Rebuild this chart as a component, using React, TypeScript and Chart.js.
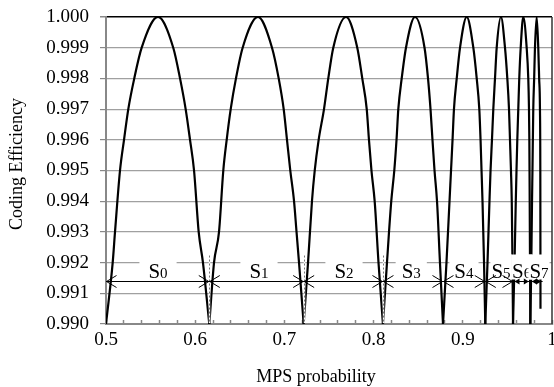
import React, { useEffect, useRef } from 'react';
import { Chart, registerables } from 'chart.js';

Chart.register(...registerables);

const FONT = '"Liberation Serif", "Times New Roman", serif';

const X_TITLE = 'MPS probability';
const Y_TITLE = 'Coding Efficiency';

const LABELS = ['S0', 'S1', 'S2', 'S3', 'S4', 'S5', 'S6', 'S7'];

const S0_X = [0.5000, 0.5075, 0.5101, 0.5157, 0.5202, 0.5250, 0.5317, 0.5400, 0.5583, 0.5754, 0.5830, 0.5893, 0.5942, 0.5987, 0.6039, 0.6087, 0.6158];
const S0_Y = [0.990, 0.992, 0.993, 0.995, 0.996, 0.997, 0.998, 0.999, 1.000, 0.999, 0.998, 0.997, 0.996, 0.995, 0.993, 0.992, 0.990];

const S1_X = [0.6158, 0.6211, 0.6267, 0.6315, 0.6353, 0.6398, 0.6457, 0.6532, 0.6704, 0.6861, 0.6936, 0.6992, 0.7029, 0.7066, 0.7108, 0.7136, 0.7164, 0.7216];
const S1_Y = [0.990, 0.992, 0.993, 0.995, 0.996, 0.997, 0.998, 0.999, 1.000, 0.999, 0.998, 0.997, 0.996, 0.995, 0.994, 0.993, 0.992, 0.990];

const S2_X = [0.7216, 0.7265, 0.7309, 0.7340, 0.7384, 0.7444, 0.7492, 0.7548, 0.7691, 0.7817, 0.7873, 0.7923, 0.7948, 0.7976, 0.8012, 0.8055, 0.8105];
const S2_Y = [0.990, 0.992, 0.994, 0.995, 0.996, 0.997, 0.998, 0.999, 1.000, 0.999, 0.998, 0.997, 0.996, 0.995, 0.994, 0.992, 0.990];

const S3_X = [0.8105, 0.8150, 0.8198, 0.8232, 0.8257, 0.8277, 0.8315, 0.8363, 0.8464, 0.8571, 0.8610, 0.8638, 0.8660, 0.8683, 0.8711, 0.8744, 0.8778];
const S3_Y = [0.990, 0.992, 0.994, 0.995, 0.996, 0.997, 0.998, 0.999, 1.000, 0.999, 0.998, 0.997, 0.996, 0.995, 0.994, 0.992, 0.990];

const S4_X = [0.8778, 0.8817, 0.8851, 0.8868, 0.8885, 0.8901, 0.8932, 0.8969, 0.9044, 0.9118, 0.9156, 0.9185, 0.9199, 0.9210, 0.9221, 0.9238, 0.9252];
const S4_Y = [0.990, 0.992, 0.994, 0.995, 0.996, 0.997, 0.998, 0.999, 1.000, 0.999, 0.998, 0.997, 0.996, 0.995, 0.994, 0.992, 0.990];

const S5_X = [0.9252, 0.9277, 0.9299, 0.9311, 0.9327, 0.9342, 0.9361, 0.9380, 0.9428, 0.9473, 0.9499, 0.9518, 0.9529, 0.9540, 0.9549, 0.9557, 0.9563];
const S5_Y = [0.990, 0.992, 0.994, 0.995, 0.996, 0.997, 0.998, 0.999, 1.000, 0.999, 0.998, 0.997, 0.996, 0.995, 0.994, 0.992, 0.990];

const S6_X = [0.9563, 0.9580, 0.9594, 0.9602, 0.9611, 0.9622, 0.9633, 0.9649, 0.9678, 0.9716, 0.9734, 0.9742, 0.9746, 0.9750, 0.9757];
const S6_Y = [0.990, 0.992, 0.994, 0.995, 0.996, 0.997, 0.998, 0.999, 1.000, 0.999, 0.998, 0.997, 0.996, 0.994, 0.990];

const S7_X = [0.9757, 0.9768, 0.9776, 0.9781, 0.9790, 0.9800, 0.9809, 0.9828, 0.9846, 0.9856, 0.9865, 0.9869, 0.9871];
const S7_Y = [0.990, 0.992, 0.994, 0.995, 0.997, 0.998, 0.999, 1.000, 0.999, 0.998, 0.997, 0.995, 0.9905];

const ARCH_X = [S0_X, S1_X, S2_X, S3_X, S4_X, S5_X, S6_X, S7_X];
const ARCH_Y = [S0_Y, S1_Y, S2_Y, S3_Y, S4_Y, S5_Y, S6_Y, S7_Y];

// state interval boundaries (arrow ends) and label centres
const BOUNDARIES = [0.5, 0.6158, 0.7216, 0.8105, 0.8778, 0.9252, 0.9563, 0.9757, 0.9895];
const LABEL_X = [0.5583, 0.6715, 0.7668, 0.8422, 0.9013, 0.9428, 0.966, 0.9854];
const ARROW_Y = 0.9914;
const DASHED_BOUNDARY_INDEX = [1, 2, 3];
const DASH_TOP = 0.99223;
const DASH_BOTTOM = 0.99003;

// styles
const LABEL_PAD = [9, 9, 9, 6, 5, 1, 1, 1];
const SMALL_ARROW_FROM = 6;

export default function App() {
  const ref = useRef<HTMLCanvasElement>(null);

  useEffect(() => {
    document.body.style.margin = '0';
    const canvas = ref.current;
    if (!canvas) return;

    const annot = {
      id: 'annot',
      afterDatasetsDraw(chart: any) {
        const xs = chart.scales.x;
        const ys = chart.scales.y;
        const ctx = chart.ctx as CanvasRenderingContext2D;
        ctx.save();

        // dashed boundary lines
        const yTop = ys.getPixelForValue(DASH_TOP);
        const yBot = ys.getPixelForValue(DASH_BOTTOM);
        for (const i of DASHED_BOUNDARY_INDEX) {
          const px = Math.round(xs.getPixelForValue(BOUNDARIES[i])) + 0.5;
          ctx.setLineDash([]);
          ctx.strokeStyle = '#ffffff';
          ctx.lineWidth = 1.5;
          ctx.beginPath();
          ctx.moveTo(px, yTop);
          ctx.lineTo(px, yBot);
          ctx.stroke();
          ctx.setLineDash([2, 2]);
          ctx.strokeStyle = '#777777';
          ctx.lineWidth = 1;
          ctx.beginPath();
          ctx.moveTo(px, yTop);
          ctx.lineTo(px, yBot);
          ctx.stroke();
        }
        ctx.setLineDash([]);

        // labels with white boxes
        const ay = Math.round(ys.getPixelForValue(ARROW_Y)) + 0.5;
        const baseY = ay - 4;
        ctx.textBaseline = 'alphabetic';
        ctx.textAlign = 'left';
        LABELS.forEach((lab, i) => {
          const cx = xs.getPixelForValue(LABEL_X[i]);
          const big = lab.slice(0, 1);
          const small = lab.slice(1);
          ctx.font = `21px ${FONT}`;
          const wS = ctx.measureText(big).width;
          ctx.font = `15px ${FONT}`;
          const wD = ctx.measureText(small).width;
          const total = wS + wD;
          const left = cx - total / 2;
          const pad = LABEL_PAD[i];
          ctx.fillStyle = '#ffffff';
          ctx.fillRect(left - pad, baseY - 23, total + 2 * pad, 25);
          ctx.fillStyle = '#000000';
          ctx.font = `21px ${FONT}`;
          ctx.fillText(big, left, baseY);
          ctx.font = `15px ${FONT}`;
          ctx.fillText(small, left + wS, baseY);
        });

        // arrow line
        const xStart = xs.getPixelForValue(BOUNDARIES[0]);
        const xEnd = xs.getPixelForValue(BOUNDARIES[BOUNDARIES.length - 1]);
        ctx.strokeStyle = '#000000';
        ctx.lineWidth = 1;
        ctx.beginPath();
        ctx.moveTo(xStart, ay);
        ctx.lineTo(xEnd, ay);
        ctx.stroke();

        for (let i = 0; i < BOUNDARIES.length - 1; i++) {
          const a = xs.getPixelForValue(BOUNDARIES[i]) + 0.5;
          const b = xs.getPixelForValue(BOUNDARIES[i + 1]) - 0.5;
          if (i < SMALL_ARROW_FROM) {
            ctx.beginPath();
            ctx.moveTo(a + 10, ay - 6);
            ctx.lineTo(a, ay);
            ctx.lineTo(a + 10, ay + 6);
            ctx.moveTo(b - 10, ay - 6);
            ctx.lineTo(b, ay);
            ctx.lineTo(b - 10, ay + 6);
            ctx.stroke();
          } else {
            ctx.fillStyle = '#000000';
            ctx.beginPath();
            ctx.moveTo(a + 1, ay);
            ctx.lineTo(a + 6, ay - 3);
            ctx.lineTo(a + 6, ay + 3);
            ctx.closePath();
            ctx.fill();
            ctx.beginPath();
            ctx.moveTo(b - 1, ay);
            ctx.lineTo(b - 6, ay - 3);
            ctx.lineTo(b - 6, ay + 3);
            ctx.closePath();
            ctx.fill();
          }
        }
        ctx.restore();
      },
      afterDraw(chart: any) {
        const ctx = chart.ctx as CanvasRenderingContext2D;
        const area = chart.chartArea;
        ctx.save();
        // right border
        ctx.strokeStyle = '#333333';
        ctx.lineWidth = 1.5;
        ctx.beginPath();
        ctx.moveTo(area.right, area.top);
        ctx.lineTo(area.right, area.bottom);
        ctx.stroke();
        // titles
        ctx.fillStyle = '#000000';
        ctx.font = `18px ${FONT}`;
        ctx.textAlign = 'center';
        ctx.textBaseline = 'middle';
        ctx.fillText(X_TITLE, 316, 377);
        ctx.translate(17, 164);
        ctx.rotate(-Math.PI / 2);
        ctx.fillText(Y_TITLE, 0, 0);
        ctx.restore();
      },
    };

    const datasets = ARCH_X.map((xsArr, k) => ({
      label: LABELS[k],
      data: xsArr.map((x, j) => ({ x, y: ARCH_Y[k][j] })),
      showLine: true,
      borderColor: '#000000',
      borderWidth: 2.2,
      pointRadius: 0,
      cubicInterpolationMode: 'monotone' as const,
      fill: false,
    }));

    const chart = new Chart(canvas, {
      type: 'scatter',
      data: { datasets },
      plugins: [annot],
      options: {
        animation: false,
        responsive: true,
        maintainAspectRatio: false,
        layout: { padding: { top: 17, right: 2, left: 0, bottom: 0 } },
        plugins: { legend: { display: false }, tooltip: { enabled: false } },
        scales: {
          x: {
            type: 'linear',
            min: 0.5,
            max: 1.0,
            afterFit(scale: any) {
              scale.height = 63;
              scale.paddingRight = 0;
              scale.paddingLeft = 0;
            },
            border: { color: '#888888', width: 2 },
            grid: {
              drawOnChartArea: false,
              tickLength: -4,
              tickColor: '#888888',
              tickWidth: 1.5,
            },
            ticks: {
              stepSize: 0.02,
              autoSkip: false,
              maxRotation: 0,
              padding: 9,
              color: '#000000',
              font: { family: FONT, size: 19 },
              callback: (v: any) => {
                const t = Math.round(Number(v) * 100);
                return t % 10 === 0 ? String(t / 100) : '';
              },
            },
          },
          y: {
            type: 'linear',
            min: 0.99,
            max: 1.0,
            afterFit(scale: any) {
              scale.width = 106;
              scale.paddingTop = 0;
              scale.paddingBottom = 0;
            },
            border: { color: '#888888', width: 2 },
            grid: {
              color: (c: any) => (c.tick && Math.abs(c.tick.value - 1) < 1e-9 ? '#000000' : '#a0a0a0'),
              lineWidth: (c: any) => (c.tick && Math.abs(c.tick.value - 1) < 1e-9 ? 1.5 : 1.2),
              tickLength: 6,
              tickColor: '#888888',
            },
            ticks: {
              stepSize: 0.001,
              padding: 11,
              color: '#000000',
              font: { family: FONT, size: 19 },
              callback: (v: any) => Number(v).toFixed(3),
            },
          },
        },
      },
    });

    return () => {
      chart.destroy();
    };
  }, []);

  return (
    <div style={{ position: 'absolute', left: 0, top: 0, width: 554, height: 387, background: '#ffffff' }}>
      <canvas ref={ref} />
    </div>
  );
}
